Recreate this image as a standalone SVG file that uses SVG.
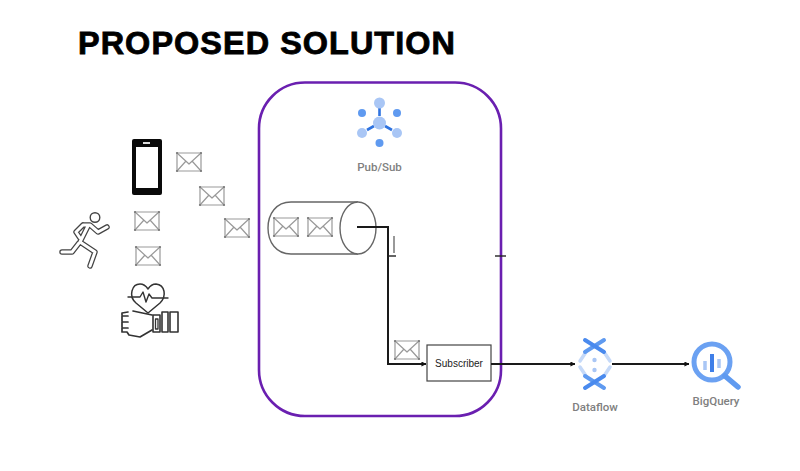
<svg xmlns="http://www.w3.org/2000/svg" width="800" height="471" viewBox="0 0 800 471">
<style>
.env{fill:none;stroke:#999;stroke-width:1.2;stroke-linejoin:round}
.icon{fill:none;stroke:#333;stroke-width:1.7;stroke-linecap:round;stroke-linejoin:round}
.outer{fill:none;stroke:#444;stroke-width:5.5;stroke-linecap:round;stroke-linejoin:round}
.inner{fill:none;stroke:#fff;stroke-width:3;stroke-linecap:round;stroke-linejoin:round}
.cap{font-family:Roboto,"Liberation Sans",sans-serif;font-size:11.5px;fill:#808080;text-anchor:middle;font-weight:500}
.conn{fill:none;stroke:#1a1a1a;stroke-width:2}
.thin{fill:none;stroke:#222;stroke-width:1.4}
</style>
<defs>
<marker id="ah" viewBox="0 0 6 6" refX="5.5" refY="3" markerWidth="5" markerHeight="5" markerUnits="userSpaceOnUse" orient="auto"><path d="M0 0L6 3L0 6z" fill="#111"/></marker>
<g id="mail"><rect x="-12" y="-9" width="24" height="18" fill="#fff" stroke="none"/><path class="env" d="M-12-9H12V9H-12z"/><path class="env" d="M-12-9L0 2L12-9M-12 9L-3-1M12 9L3-1"/><g fill="#777"><circle cx="-12" cy="-9" r="1.1"/><circle cx="12" cy="-9" r="1.1"/><circle cx="-12" cy="9" r="1.1"/><circle cx="12" cy="9" r="1.1"/></g></g>
<path id="runner-path" d="M83 225L76 232L80 238M83 225H90L98 232L107 227M88 226L80 242L95 252L90 266M79 243L72 252H62"/>
</defs>
<rect width="800" height="471" fill="#fff"/>
<text id="title" x="78" y="53.500" font-family="'Liberation Sans',Arial,sans-serif" font-weight="700" font-size="30.500" letter-spacing="1" textLength="378" lengthAdjust="spacingAndGlyphs" fill="#000" stroke="#000" stroke-width="0.800">PROPOSED SOLUTION</text>
<g id="pubsub-frame"><rect x="259" y="82.500" width="242" height="333.500" rx="46" fill="none" stroke="#6a1fb0" stroke-width="2.600"/></g>
<g id="phone"><rect x="132" y="139" width="30" height="56" rx="2" fill="#0a0a0a"/><rect x="136" y="147" width="22" height="41" fill="#fff"/><rect x="143" y="142" width="7" height="2" fill="#ddd"/></g>
<g id="runner">
<use href="#runner-path" class="outer"/>
<use href="#runner-path" class="inner"/>
<circle cx="95" cy="217.500" r="4.800" fill="#fff" stroke="#444" stroke-width="1.400"/>
</g>
<g id="wearable" class="icon">
<path d="M136 303C128 296 132 284 140 284C143 284 146 286 148 289C150 286 153 284 156 284C165 285 167 296 160 303L148 313Z" stroke-width="1.500"/>
<path d="M128 297H140L143 292L146 302L149 294L152 298H168" stroke-width="1.400"/>
<path d="M133 311L152 315M152 330L140 337L129 335L127 332H122V328H128M122 327V322H128M122 321V316H128M122 315V313L128 312"/>
<path d="M153 315H160V332H153ZM162 312H168V332H162ZM170 312H178V332H170Z" stroke-width="1.600"/>
<path d="M155.500 319H158V329H155.500Z" stroke-width="1.300"/>
</g>
<g id="msg1"><use href="#mail" x="189" y="162"/></g>
<g id="msg2"><use href="#mail" x="212" y="196"/></g>
<g id="msg3"><use href="#mail" x="237" y="228"/></g>
<g id="msg4"><use href="#mail" x="147" y="221"/></g>
<g id="msg5"><use href="#mail" x="148" y="256"/></g>
<g id="pubsub-icon">
<g stroke="#2f73e0" stroke-width="2.600"><path d="M379.500 108V116M367 130L374 126M392 130L385 126"/></g>
<circle cx="379.500" cy="103" r="5.500" fill="#a9c6f5"/>
<circle cx="362" cy="113" r="4" fill="#5f9af0"/><circle cx="397" cy="113" r="4" fill="#5f9af0"/>
<circle cx="379.500" cy="123" r="6.500" fill="#a9c6f5"/>
<circle cx="362" cy="133" r="5" fill="#a9c6f5"/><circle cx="397" cy="133" r="5" fill="#a9c6f5"/>
<circle cx="379.500" cy="143" r="4" fill="#5f9af0"/>
<text class="cap" x="379.500" y="171">Pub/Sub</text>
</g>
<g id="topic">
<path d="M358 202H291C276 202 268 214 268 228C268 242 276 254 291 254H358" fill="#fff" stroke="#666" stroke-width="1.400"/>
<ellipse cx="358" cy="228" rx="18" ry="26" fill="#fff" stroke="#666" stroke-width="1.400"/>
<use href="#mail" x="286" y="227"/><use href="#mail" x="320" y="227"/>
</g>
<g id="subscriber"><rect x="427" y="345" width="64" height="36" fill="#fff" stroke="#444" stroke-width="1.200"/><text x="459" y="367" font-family="'Liberation Sans',Arial,sans-serif" font-size="10" fill="#222" text-anchor="middle">Subscriber</text></g>
<g id="msg6"><use href="#mail" x="407" y="350"/></g>
<g id="dataflow">
<g fill="none" stroke-linecap="round">
<path d="M586 352L580 361M604 352L610 361M580 367L586 376M610 367L604 376" stroke="#c5d9f8" stroke-width="3.500"/>
<path d="M585 352L604 340M585 376L604 388" stroke="#5f9af0" stroke-width="4"/>
<path d="M585 340L604 352M585 388L604 376" stroke="#4a8aee" stroke-width="4"/>
</g>
<circle cx="594.500" cy="360" r="2.200" fill="#a9c6f5"/><circle cx="594.500" cy="370" r="2.200" fill="#a9c6f5"/>
<text class="cap" x="595" y="411">Dataflow</text>
</g>
<g id="bigquery">
<circle cx="712" cy="362" r="18" fill="#fff" stroke="#6ba1f2" stroke-width="5"/>
<path d="M725 376L738 387" stroke="#5f9af0" stroke-width="5.500" stroke-linecap="round"/>
<path d="M712 354V372" stroke="#3f7fe8" stroke-width="4"/><path d="M705 361V370M719 359V368" stroke="#a9c6f5" stroke-width="3.500"/>
<text class="cap" x="716" y="405">BigQuery</text>
</g>
<g id="connectors">
<path class="conn" d="M357 227H388V364H426" marker-end="url(#ah)"/>
<path class="conn" d="M491 364H575" marker-end="url(#ah)"/>
<path class="conn" d="M612 364H689" marker-end="url(#ah)"/>
<path class="thin" d="M388 256H396"/>
<path class="thin" d="M495 256H506"/>
<path d="M394 236V253" stroke="#999" stroke-width="2" fill="none"/>
</g>
</svg>
